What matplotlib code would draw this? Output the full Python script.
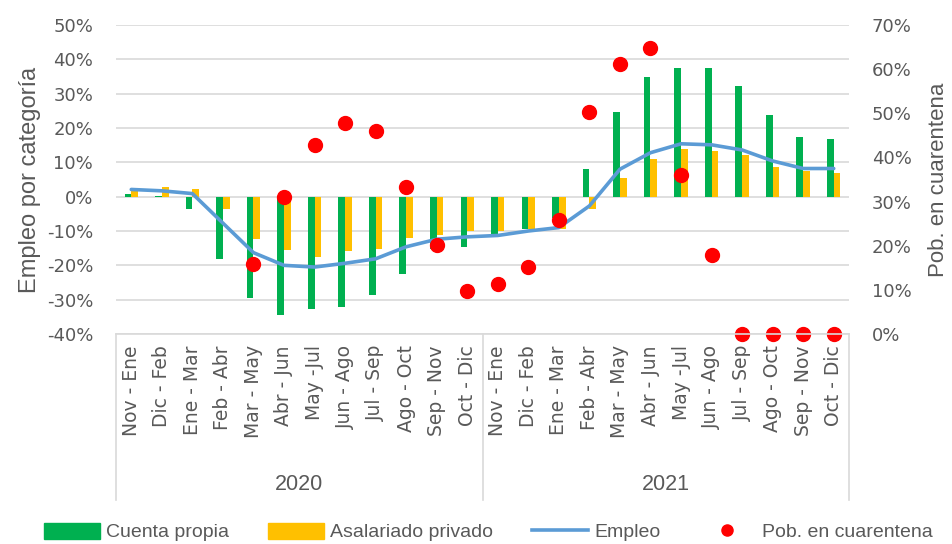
import matplotlib
matplotlib.use("Agg")
import matplotlib.pyplot as plt
import numpy as np
from matplotlib.patches import Patch
from matplotlib.lines import Line2D

periods = ["Nov - Ene", "Dic - Feb", "Ene - Mar", "Feb - Abr", "Mar - May", "Abr - Jun",
           "May -Jul", "Jun - Ago", "Jul - Sep", "Ago - Oct", "Sep - Nov", "Oct - Dic",
           "Nov - Ene", "Dic - Feb", "Ene - Mar", "Feb - Abr", "Mar - May", "Abr - Jun",
           "May -Jul", "Jun - Ago", "Jul - Sep", "Ago - Oct", "Sep - Nov", "Oct - Dic"]
years = ["2020", "2021"]

cuenta_propia = [0.7, 0.3, -3.5, -18.1, -29.5, -34.6, -32.8, -32.0, -28.7, -22.6, -15.3, -14.6,
                 -11.5, -9.5, -6.1, 8.0, 24.8, 35.0, 37.6, 37.4, 32.3, 23.8, 17.4, 16.8]
asalariado_privado = [2.4, 2.8, 2.3, -3.5, -12.4, -15.5, -17.5, -15.9, -15.1, -12.1, -11.2, -10.1,
                      -10.0, -9.3, -9.3, -3.5, 5.5, 10.9, 13.8, 13.3, 12.0, 8.6, 7.5, 7.0]
empleo = [2.1, 1.7, 0.9, -7.7, -16.3, -20.0, -20.5, -19.4, -18.1, -14.6, -12.4, -11.7,
          -11.3, -10.0, -9.0, -2.7, 8.0, 12.8, 15.4, 15.1, 13.6, 10.4, 8.2, 8.2]
cuarentena = [np.nan, np.nan, np.nan, np.nan, 15.9, 31.0, 42.9, 47.9, 45.9, 33.4, 20.1, 9.8,
              11.4, 15.1, 25.9, 50.2, 61.1, 64.9, 36.0, 17.9, 0.0, 0.0, 0.0, 0.0]

GREEN = "#00B050"
YELLOW = "#FFC000"
BLUE = "#5B9BD5"
RED = "#FF0000"
TXT = "#595959"
GRID = "#D9D9D9"

W, H = 952, 544
fig = plt.figure(figsize=(W / 100, H / 100), dpi=100)
L, R, T, B = 116 / W, 849 / W, 25 / H, 334 / H
ax = fig.add_axes([L, 1 - B, R - L, B - T])
ax2 = ax.twinx()

n = len(periods)
x = np.arange(n)
bw = 0.22
ax.bar(x - bw / 2, np.array(cuenta_propia) / 100, width=bw, color=GREEN, zorder=2)
ax.bar(x + bw / 2, np.array(asalariado_privado) / 100, width=bw, color=YELLOW, zorder=2)
ax.plot(x, np.array(empleo) / 100, color=BLUE, lw=2.6, zorder=3, solid_capstyle="round")

ax.set_xlim(-0.5, n - 0.5)
ax.set_ylim(-0.4, 0.5)
yt = np.arange(-0.4, 0.51, 0.1)
ax.set_yticks(yt)
ax.set_yticklabels([f"{int(round(v*100))}%" for v in yt])
ax.yaxis.grid(True, color=GRID, lw=1.2, zorder=0)
ax.set_axisbelow(True)

ax2.set_ylim(0, 0.7)
yt2 = np.arange(0, 0.71, 0.1)
ax2.set_yticks(yt2)
ax2.set_yticklabels([f"{int(round(v*100))}%" for v in yt2])
ax2.plot(x, np.array(cuarentena) / 100, linestyle="none", marker="o", ms=10,
         color=RED, clip_on=False, zorder=5)

for a in (ax, ax2):
    for s in a.spines.values():
        s.set_visible(False)
    a.tick_params(axis="both", length=0, colors=TXT)
    a.tick_params(axis="y", labelsize=13)
    for lab in a.get_yticklabels():
        lab.set_fontfamily("DejaVu Sans")

ax.tick_params(axis="y", pad=16.5)
ax2.tick_params(axis="y", pad=16.5)

ax.set_xticks(x)
ax.set_xticklabels(periods, rotation=90, fontsize=13.5, color=TXT, family="DejaVu Sans")
ax.tick_params(axis="x", pad=8)

ax.set_ylabel("Empleo por categoría", fontsize=17, color=TXT, family="Liberation Sans", labelpad=4)
ax2.set_ylabel("Pob. en cuarentena", fontsize=16, color=TXT, family="Liberation Sans", labelpad=12)

# category axis frame and year separators
line_kw = dict(color=GRID, lw=1.2, transform=fig.transFigure, clip_on=False)
fig.add_artist(Line2D([L, R], [1 - B, 1 - B], **line_kw))
for xf in (L, (L + R) / 2, R):
    fig.add_artist(Line2D([xf, xf], [1 - B, 1 - 500 / H], **line_kw))
for i, yr in enumerate(years):
    xc = L + (R - L) * (0.25 + 0.5 * i)
    fig.text(xc, 1 - 484 / H, yr, ha="center", va="center", fontsize=15.5,
             color=TXT, family="Liberation Sans")

handles = [Patch(color=GREEN), Patch(color=YELLOW),
           Line2D([], [], color=BLUE, lw=2.6),
           Line2D([], [], color=RED, marker="o", ms=8, linestyle="none")]
labels = ["Cuenta propia", "Asalariado privado", "Empleo", "Pob. en cuarentena"]
fig.legend(handles, labels, loc="center", bbox_to_anchor=(488 / W, 1 - 532 / H), ncol=4,
           frameon=False, prop={"family": "Liberation Sans", "size": 14},
           handlelength=2.9, handleheight=0.9, handletextpad=0.3, columnspacing=2.0,
           labelcolor=TXT, borderpad=0.1)

fig.savefig("out.png", dpi=100)
